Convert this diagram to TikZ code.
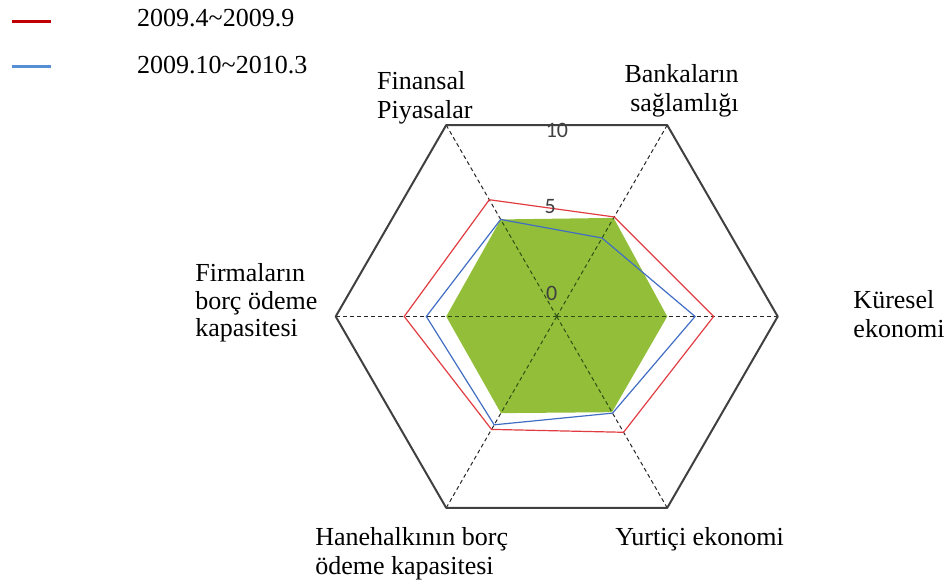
\documentclass[tikz,border=0pt]{standalone}
\usepackage{fontspec}
\setmainfont{Liberation Serif}
\newfontfamily\tickfont{Carlito}
\usetikzlibrary{positioning}

\definecolor{legendred}{RGB}{192,0,0}
\definecolor{legendblue}{RGB}{85,142,213}
\definecolor{chartred}{RGB}{225,60,65}
\definecolor{chartblue}{RGB}{65,110,195}
\definecolor{areagreen}{RGB}{146,190,58}
\definecolor{darkspoke}{RGB}{45,80,20}
\definecolor{framegray}{RGB}{64,64,64}

\begin{document}
\begin{tikzpicture}[
    x=11.05pt, y=11.05pt,
    axislabel/.style={font=\fontsize{13}{14.5}\selectfont, inner sep=0pt, align=left},
    spoke/.style={black!85, line width=0.5pt, dash pattern=on 2pt off 1.5pt},
    outerframe/.style={framegray, line width=1pt, line join=round},
    seriesline/.style={line width=0.6pt, line join=miter},
    ticklabel/.style={font=\tickfont\fontsize{11}{11}\selectfont, text=black!75, inner sep=0pt},
    legline/.style={line width=1.6pt}
  ]
    \useasboundingbox (-25.19,-12.10) rectangle (17.75,14.32);

    % axes of the radar chart
    \coordinate (c) at (0,0);
    \foreach \ang/\nm in {120/fin,60/bank,0/kur,-60/yur,-120/hane,180/firm}
      \coordinate (\nm) at (\ang:10);
    \foreach \nm in {fin,bank,kur,yur,hane,firm}
      \draw[spoke] (c) -- (\nm);

    % filled area, spokes show through in dark green
    \fill[areagreen] (120:5.07) -- (60:5.15) -- (0:5.0) -- (-60:5.0) -- (-120:5.05) -- (180:5.0) -- cycle;
    \begin{scope}
      \clip (120:5.07) -- (60:5.15) -- (0:5.0) -- (-60:5.0) -- (-120:5.05) -- (180:5.0) -- cycle;
      \foreach \nm in {fin,bank,kur,yur,hane,firm}
        \draw[spoke, darkspoke] (c) -- (\nm);
    \end{scope}

    \draw[outerframe] (fin) -- (bank) -- (kur) -- (yur) -- (hane) -- (firm) -- cycle;

    % the two periods
    \draw[seriesline, chartred] (120:6.1) -- (60:5.2) -- (0:7.1) -- (-60:6.05) -- (-120:5.9) -- (180:6.9) -- cycle;
    \draw[seriesline, chartblue] (120:5.07) -- (60:4.1) -- (0:6.26) -- (-60:5.05) -- (-120:5.66) -- (180:5.9) -- cycle;

    % scale
    \node[ticklabel] (t10) at (0.01,8.44) {10};
    \node[ticklabel] (t5) at (-0.30,4.97) {5};
    \node[ticklabel] (t0) at (-0.23,1.05) {0};

    % axis labels
    \node[axislabel, anchor=west] (finlabel) at (-8.14,9.89) {Finansal\\Piyasalar};
    \node[axislabel, anchor=east, align=right] (banklabel) at (8.25,10.19) {Bankaların\\sağlamlığı};
    \node[axislabel, anchor=west] (kurlabel) at (13.41,0.10) {Küresel\\ekonomi};
    \node[axislabel, anchor=west, font=\fontsize{13}{13.6}\selectfont] (firmlabel) at (-16.37,0.62) {Firmaların\\borç ödeme\\kapasitesi};
    \node[axislabel, anchor=west] (hanelabel) at (-10.94,-10.73) {Hanehalkının borç\\ödeme kapasitesi};
    \node[axislabel, anchor=base west] (yurlabel) at (2.64,-10.34) {Yurtiçi ekonomi};

    % legend
    \coordinate (redA) at (-24.65,13.34);
    \coordinate (redB) at (-22.88,13.34);
    \coordinate (blueA) at (-24.65,11.30);
    \coordinate (blueB) at (-22.88,11.30);
    \draw[legline, legendred] (redA) -- (redB);
    \draw[legline, legendblue] (blueA) -- (blueB);
    \node[axislabel, anchor=base west] (redtext) at (-19.00,13.11) {2009.4\textasciitilde 2009.9};
    \node[axislabel, anchor=base west] (bluetext) at (-19.00,11.00) {2009.10\textasciitilde 2010.3};
\end{tikzpicture}
\end{document}
